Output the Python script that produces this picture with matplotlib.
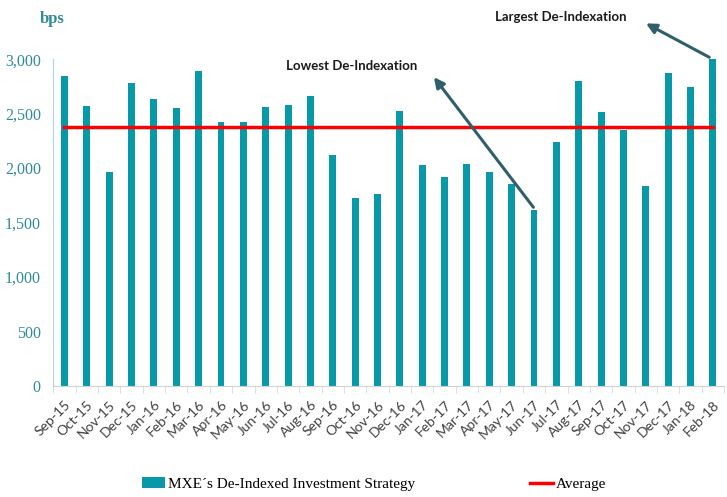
import matplotlib
matplotlib.use('Agg')
from matplotlib import pyplot as plt
from matplotlib.patches import Patch
from matplotlib.lines import Line2D
import numpy as np

months = ['Sep-15', 'Oct-15', 'Nov-15', 'Dec-15', 'Jan-16', 'Feb-16', 'Mar-16', 'Apr-16',
          'May-16', 'Jun-16', 'Jul-16', 'Aug-16', 'Sep-16', 'Oct-16', 'Nov-16', 'Dec-16',
          'Jan-17', 'Feb-17', 'Mar-17', 'Apr-17', 'May-17', 'Jun-17', 'Jul-17', 'Aug-17',
          'Sep-17', 'Oct-17', 'Nov-17', 'Dec-17', 'Jan-18', 'Feb-18']
bps = [2845, 2570, 1965, 2780, 2630, 2555, 2890, 2420,
       2420, 2565, 2580, 2665, 2120, 1730, 1765, 2520,
       2030, 1920, 2040, 1965, 1850, 1620, 2240, 2795,
       2515, 2350, 1840, 2875, 2745, 3005]
average = 2378

TEAL = '#0899a9'
RED = '#ff0000'
ARROW = '#2f5f6b'
SERIF = 'Liberation Serif'

fig = plt.figure(figsize=(7.27, 4.97), dpi=100)
ax = fig.add_axes([0.0733, 0.2233, 0.9226, 0.6577])

x = np.arange(len(months))
ax.bar(x, bps, width=0.31, color=TEAL, zorder=2)
ax.plot([x[0], x[-1]], [average, average], color=RED, lw=2.5, zorder=3)

ax.set_xlim(-0.5, len(months) - 0.5)
ax.set_ylim(0, 3000)
ax.set_yticks(range(0, 3001, 500))
ax.set_yticklabels([f'{v:,}' for v in range(0, 3001, 500)], family=SERIF, fontsize=11.5, color='#2f8a9a')
ax.tick_params(axis='y', length=0, pad=9)

ax.set_xticks(x)
ax.set_xticklabels(months, rotation=45, ha='right', rotation_mode='anchor',
                   family='Lato', fontsize=10, color='#404040')
ax.tick_params(axis='x', length=0, pad=9)
ax.set_xticks(np.arange(-0.5, len(months), 1), minor=True)
ax.tick_params(axis='x', which='minor', length=5, color='#d8d8d8')

for s in ['top', 'right']:
    ax.spines[s].set_visible(False)
ax.spines['left'].set_color('#a9d6de')
ax.spines['bottom'].set_color('#d0d0d0')

fig.text(0.055, 0.962, 'bps', family=SERIF, fontsize=12, fontweight='bold', color='#2f8a9a',
         ha='left', va='center')

# annotations
low_i = bps.index(min(bps))
high_i = bps.index(max(bps))
ax.annotate('', xy=(16.45, 2855), xytext=(low_i + 0.05, bps[low_i]),
            arrowprops=dict(arrowstyle='-|>,head_length=0.6,head_width=0.3', color=ARROW, lw=2.2),
            annotation_clip=False)
ax.text(12.85, 2935, 'Lowest De-Indexation', family='Lato', fontweight='bold', fontsize=9.5,
        color='#1a1a1a', ha='center', va='center')
ax.annotate('', xy=(25.9, 3340), xytext=(high_i - 0.05, bps[high_i]),
            arrowprops=dict(arrowstyle='-|>,head_length=0.6,head_width=0.3', color=ARROW, lw=2.2),
            annotation_clip=False)
ax.text(22.2, 3385, 'Largest De-Indexation', family='Lato', fontweight='bold', fontsize=9.5,
        color='#1a1a1a', ha='center', va='center', clip_on=False)

handles = [Patch(facecolor=TEAL, edgecolor='none'), Line2D([], [], color=RED, lw=2.5)]
fig.legend(handles, ['MXE\u00b4s De-Indexed Investment Strategy', 'Average'],
           loc='center', bbox_to_anchor=(0.515, 0.026), ncol=2, frameon=False,
           prop={'family': SERIF, 'size': 11}, columnspacing=7.5,
           handlelength=1.5, handleheight=0.7, handletextpad=0.2)

fig.savefig('out.png', dpi=100)
